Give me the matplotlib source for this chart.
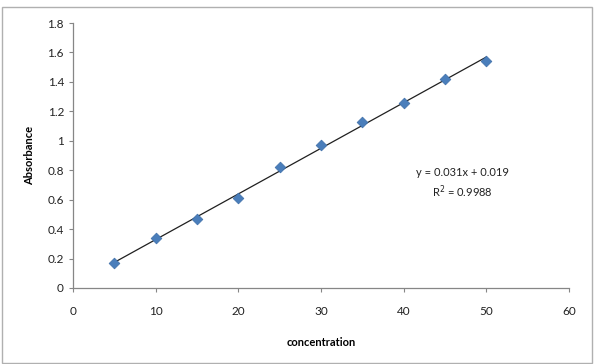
import matplotlib.pyplot as plt
import numpy as np
from matplotlib.patches import Rectangle

concentration = [5, 10, 15, 20, 25, 30, 35, 40, 45, 50]
absorbance = [0.17, 0.34, 0.47, 0.61, 0.82, 0.97, 1.13, 1.26, 1.42, 1.54]

slope = 0.031
intercept = 0.019
r_squared = 0.9988

x_ticks = [0, 10, 20, 30, 40, 50, 60]
y_ticks = [0, 0.2, 0.4, 0.6, 0.8, 1, 1.2, 1.4, 1.6, 1.8]
y_tick_labels = ["0", "0.2", "0.4", "0.6", "0.8", "1", "1.2", "1.4", "1.6", "1.8"]

plt.rcParams["font.family"] = ["Lato", "DejaVu Sans"]

fig = plt.figure(figsize=(5.99, 3.64), dpi=100)
ax = fig.add_axes([73 / 599, 1 - 288 / 364, (569 - 73) / 599, (288 - 23) / 364])

# outer chart border
fig.patches.append(Rectangle((2 / 599, 0.002), 590 / 599, 1 - 7 / 364 - 0.002,
                             transform=fig.transFigure, fill=False,
                             edgecolor="#b0b0b0", linewidth=1.0))

x = np.array(concentration, dtype=float)
fit_x = np.array([x.min(), x.max()])
ax.plot(fit_x, slope * fit_x + intercept, color="#202020", linewidth=0.9, zorder=2)
ax.scatter(concentration, absorbance, marker="D", s=30, color="#4a7ebb",
           edgecolor="#3d6ea8", linewidth=0.5, zorder=3)

ax.set_xlim(0, 60)
ax.set_ylim(0, 1.8)
ax.set_xticks(x_ticks)
ax.set_yticks(y_ticks)
ax.set_yticklabels(y_tick_labels)

for side in ["top", "right"]:
    ax.spines[side].set_visible(False)
for side in ["left", "bottom"]:
    ax.spines[side].set_color("#868686")
    ax.spines[side].set_linewidth(0.9)

ax.tick_params(axis="both", direction="out", length=3, width=0.8,
               color="#868686", labelsize=8.5, labelcolor="#222222")
ax.tick_params(axis="x", pad=10)

ax.set_xlabel("concentration", fontsize=8, fontweight="bold", labelpad=14)
ax.set_ylabel("Absorbance", fontsize=8, fontweight="bold", labelpad=9)

ax.text(462 / 599, 1 - 173 / 364, f"y = {slope}x + {intercept}",
        transform=fig.transFigure, ha="center", va="center", fontsize=8, color="#222222")
ax.text(462 / 599, 1 - 192 / 364, f"R$^2$ = {r_squared}",
        transform=fig.transFigure, ha="center", va="center", fontsize=8, color="#222222")

fig.savefig("out.png", dpi=100)
plt.close(fig)
